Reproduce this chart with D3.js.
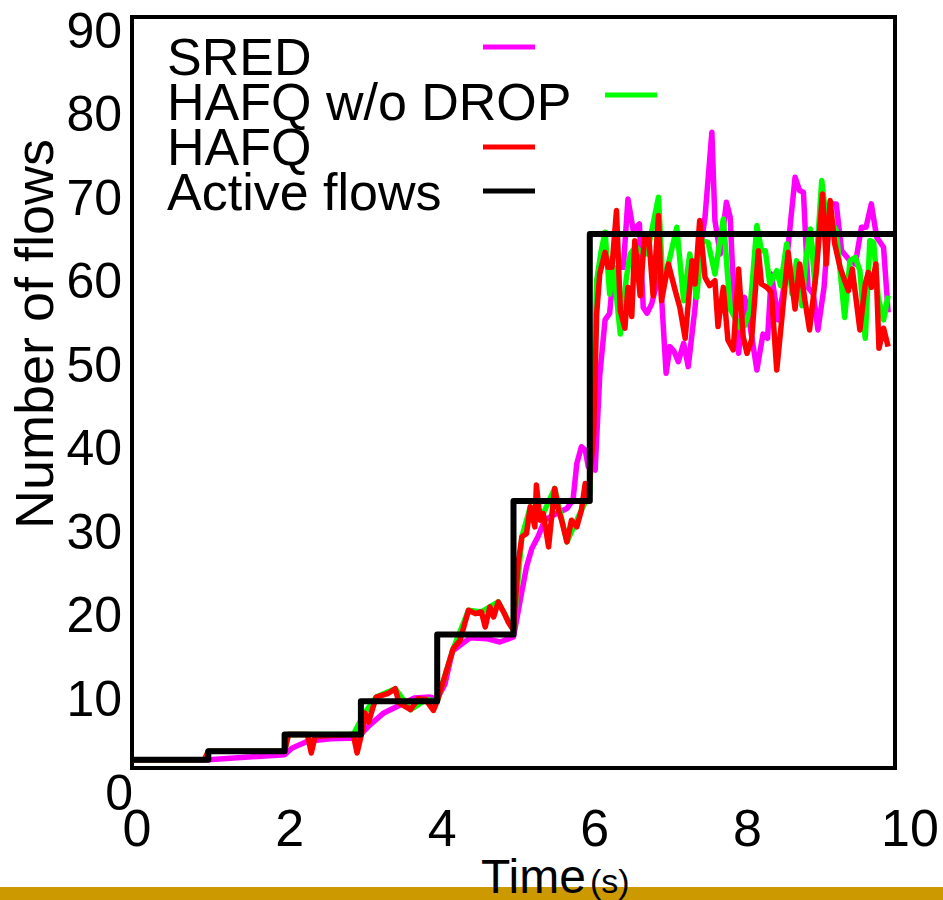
<!DOCTYPE html>
<html>
<head>
<meta charset="utf-8">
<script src="https://cdn.jsdelivr.net/npm/d3@7"></script>
<style>
    body { margin: 0; background: #fff; }
    text { font-family: "Liberation Sans", Arial, sans-serif; fill: #000; }
</style>
</head>
<body>
<div id="chart"></div>
<script>

// active flows: step function (time, flows)
let activeTime = [0, 1, 1, 2, 2, 3, 3, 4, 4, 5, 5, 6, 6, 10];
let activeFlows = [1, 1, 2, 2, 4, 4, 8, 8, 16, 16, 32, 32, 64, 64];

// SRED estimate
let sredTime = [0, 1, 2, 2.1, 2.3, 2.6, 2.95, 3.1, 3.3, 3.5, 3.7, 3.9, 4.0, 4.1, 4.2, 4.43, 4.65, 4.82, 5.0, 5.08, 5.17, 5.24, 5.32, 5.41, 5.52, 5.7, 5.78, 5.83, 5.89, 5.94, 5.98, 6.07, 6.13, 6.2, 6.26, 6.3, 6.38, 6.44, 6.5, 6.57, 6.65, 6.7, 6.75, 6.81, 6.92, 7.0, 7.05, 7.1, 7.16, 7.23, 7.29, 7.38, 7.44, 7.51, 7.6, 7.64, 7.71, 7.79, 7.84, 7.88, 7.95, 8.03, 8.1, 8.19, 8.27, 8.33, 8.38, 8.47, 8.55, 8.69, 8.75, 8.8, 8.86, 8.93, 8.99, 9.07, 9.15, 9.23, 9.3, 9.39, 9.48, 9.56, 9.62, 9.69, 9.76, 9.85, 9.91];
let sredFlows = [1, 1, 1.6, 2.4, 3.2, 3.5, 3.6, 5, 6.6, 7.5, 8.4, 8.5, 8.3, 10, 14, 15.6, 15.5, 15.1, 15.7, 19.7, 24.1, 26.3, 27.7, 29.7, 30.3, 31.1, 32.1, 36.5, 38.5, 38.1, 36.1, 35.7, 47, 53.7, 54.5, 58.4, 60, 60, 68.2, 64.4, 65.2, 55.2, 54.5, 55.6, 59.6, 47.3, 50.5, 50, 48.7, 50.9, 48.1, 55.2, 61.6, 66, 76.2, 65.6, 61.6, 67.8, 66, 58, 49.7, 56.4, 53, 47.7, 52, 51.5, 59.2, 53.7, 58, 70.8, 69.2, 69, 57.6, 56.8, 52.5, 57.6, 67.6, 67.6, 62, 61, 60.4, 64.8, 64.8, 67.6, 63.6, 62.4, 54.6];

// HAFQ estimate
let hafqTime = [0, 0.95, 1.0, 1.95, 2.0, 2.05, 2.3, 2.35, 2.4, 2.9, 2.95, 3.02, 3.05, 3.1, 3.2, 3.35, 3.45, 3.5, 3.65, 3.75, 3.85, 3.95, 4.0, 4.1, 4.21, 4.3, 4.41, 4.5, 4.58, 4.63, 4.69, 4.74, 4.8, 4.87, 4.93, 5.0, 5.06, 5.11, 5.17, 5.22, 5.28, 5.3, 5.35, 5.39, 5.46, 5.5, 5.54, 5.59, 5.63, 5.7, 5.76, 5.83, 5.89, 5.94, 5.98, 6.05, 6.09, 6.13, 6.2, 6.24, 6.29, 6.35, 6.4, 6.46, 6.5, 6.55, 6.59, 6.66, 6.72, 6.77, 6.83, 6.9, 6.94, 7.03, 7.12, 7.18, 7.25, 7.34, 7.38, 7.44, 7.51, 7.57, 7.64, 7.68, 7.75, 7.81, 7.88, 7.95, 8.01, 8.06, 8.12, 8.21, 8.25, 8.32, 8.38, 8.45, 8.51, 8.6, 8.69, 8.75, 8.82, 8.88, 8.97, 9.05, 9.1, 9.15, 9.21, 9.28, 9.34, 9.39, 9.44, 9.54, 9.61, 9.65, 9.69, 9.75, 9.79, 9.85, 9.91];
let hafqFlows = [1, 1, 2, 2, 2, 4, 4, 1.8, 3.8, 4, 1.8, 4.5, 6.6, 5.5, 8.5, 8.9, 9.5, 7.8, 7, 8.3, 8.2, 6.9, 8, 11, 14.3, 15.3, 18.9, 18.5, 18.7, 16.9, 19.3, 18.1, 19.9, 18.7, 17.5, 16.5, 24.5, 27.7, 28.1, 31.3, 28.9, 33.9, 29.7, 30.5, 26.5, 30.1, 33.5, 30.9, 29.7, 27.1, 29.7, 28.9, 30.9, 34.1, 32.5, 40, 54.4, 59.2, 61.8, 60, 60, 66.8, 54.8, 52.7, 57.6, 54.1, 63.2, 56.6, 64, 64, 56.6, 66.2, 56, 60.4, 57.2, 55.2, 51.5, 60.8, 58, 65.6, 58.8, 57.8, 58.4, 52.9, 57.6, 51.3, 50.1, 59.8, 51.7, 49.7, 51.3, 62, 58, 57.6, 57, 47.7, 53.2, 61.8, 55, 60.4, 56, 52.5, 59.6, 68.8, 60.4, 68, 62.8, 60, 58.4, 57.2, 59.8, 52.5, 58, 59.4, 57.6, 60.4, 50.3, 52.7, 50.5];

// HAFQ w/o DROP estimate (follows HAFQ before 6 s)
let nodropTime = [0, 0.95, 1.0, 1.95, 2.0, 2.05, 2.9, 3.05, 3.2, 3.45, 3.65, 3.85, 4.0, 4.21, 4.41, 4.58, 4.8, 5.0, 5.11, 5.22, 5.39, 5.54, 5.7, 5.89, 6.0, 6.05, 6.09, 6.15, 6.2, 6.26, 6.31, 6.4, 6.48, 6.53, 6.6, 6.65, 6.75, 6.9, 6.96, 7.05, 7.14, 7.23, 7.31, 7.4, 7.47, 7.55, 7.64, 7.75, 7.84, 7.97, 8.03, 8.1, 8.19, 8.25, 8.3, 8.36, 8.45, 8.5, 8.58, 8.65, 8.71, 8.78, 8.83, 8.89, 8.95, 9.04, 9.1, 9.16, 9.23, 9.34, 9.41, 9.48, 9.54, 9.61, 9.67, 9.72, 9.78, 9.85, 9.91];
let nodropFlows = [1, 1, 2, 2, 2, 4, 4, 6.6, 8.5, 9.5, 7, 8.2, 8, 14.3, 18.9, 18.7, 19.9, 16.5, 27.7, 31.3, 30.5, 33.5, 27.1, 30.9, 33, 45, 58.4, 62, 64.2, 56.8, 60, 52, 58.8, 61.6, 62.5, 62, 61.6, 68.4, 57.6, 61.2, 64.8, 56, 61.6, 56.4, 63.2, 63, 59.2, 65.8, 55, 52.8, 53, 54.9, 65, 62, 62, 58, 59.6, 57.8, 62.8, 56.8, 60.8, 55.4, 60.8, 64.6, 58, 70.4, 65.6, 65.6, 64.4, 54, 60.8, 61.2, 59.6, 51.5, 63.2, 63, 56.4, 53.7, 56.6];

// legend and ticks
let legendNames = ['SRED', 'HAFQ w/o DROP', 'HAFQ', 'Active flows'];
let legendColors = ['#ff00ff', '#00ff00', '#ff0000', '#000000'];
let xTicks = [0, 2, 4, 6, 8, 10];
let yTicks = [10, 20, 30, 40, 50, 60, 70, 80, 90];

function zip(times, values) {
    return times.map(function (t, i) {
        return {t: t, v: values[i]};
    });
}

function drawChart() {
    let width = 943;
    let height = 900;
    let margin = {top: 17, right: 48, bottom: 132, left: 132};

    let svg = d3.select('#chart').append('svg')
        .attr('width', width)
        .attr('height', height);

    let x = d3.scaleLinear()
        .domain([0, 10])
        .range([margin.left, width - margin.right]);

    let y = d3.scaleLinear()
        .domain([0, 90])
        .range([height - margin.bottom, margin.top]);

    // gold strip at the bottom
    svg.append('rect')
        .attr('x', 0)
        .attr('y', 887)
        .attr('width', width)
        .attr('height', 13)
        .attr('fill', '#cc9900');

    // plot frame
    svg.append('rect')
        .attr('x', x(0))
        .attr('y', y(90))
        .attr('width', x(10) - x(0))
        .attr('height', y(0) - y(90))
        .attr('fill', 'none')
        .attr('stroke', '#000')
        .attr('stroke-width', 4);

    // tick labels
    svg.selectAll('.ylab')
        .data(yTicks)
        .enter().append('text')
        .attr('class', 'ylab')
        .attr('x', 122)
        .attr('y', function (d) { return y(d) + 31; })
        .attr('text-anchor', 'end')
        .style('font-size', '50px')
        .text(function (d) { return d; });

    svg.append('text')
        .attr('x', 133)
        .attr('y', y(0) + 42)
        .attr('text-anchor', 'end')
        .style('font-size', '50px')
        .text('0');

    svg.selectAll('.xlab')
        .data(xTicks)
        .enter().append('text')
        .attr('class', 'xlab')
        .attr('x', function (d) { return x(d) + (d === 10 ? 15 : 5); })
        .attr('y', y(0) + 78)
        .attr('text-anchor', 'middle')
        .style('font-size', '52px')
        .text(function (d) { return d; });

    // axis titles
    svg.append('text')
        .attr('transform', 'translate(53,334) rotate(-90)')
        .attr('text-anchor', 'middle')
        .style('font-size', '54px')
        .text('Number of flows');

    let xTitle = svg.append('text')
        .attr('x', 481)
        .attr('y', 893);
    xTitle.append('tspan')
        .style('font-size', '48px')
        .text('Time');
    xTitle.append('tspan')
        .attr('dx', 4)
        .style('font-size', '34px')
        .text('(s)');

    // series lines, SRED first so HAFQ and active flows sit on top
    let line = d3.line()
        .x(function (d) { return x(d.t); })
        .y(function (d) { return y(d.v); });

    let series = [
        zip(sredTime, sredFlows),
        zip(nodropTime, nodropFlows),
        zip(hafqTime, hafqFlows),
        zip(activeTime, activeFlows)
    ];

    svg.selectAll('.series')
        .data(series)
        .enter().append('path')
        .attr('class', 'series')
        .attr('d', line)
        .attr('fill', 'none')
        .attr('stroke', function (d, i) { return legendColors[i]; })
        .attr('stroke-width', function (d, i) { return i === 3 ? 6 : 5.5; })
        .attr('stroke-linejoin', 'round');

    // legend
    let legendBase = [75, 120, 165, 210];
    let swatchY = [47, 95, 147, 191];
    let swatchX = [483, 605, 483, 483];

    svg.selectAll('.legtext')
        .data(legendNames)
        .enter().append('text')
        .attr('class', 'legtext')
        .attr('x', 167)
        .attr('y', function (d, i) { return legendBase[i]; })
        .style('font-size', '52px')
        .text(function (d) { return d; });

    svg.selectAll('.legline')
        .data(legendNames)
        .enter().append('line')
        .attr('class', 'legline')
        .attr('x1', function (d, i) { return swatchX[i]; })
        .attr('x2', function (d, i) { return swatchX[i] + 52; })
        .attr('y1', function (d, i) { return swatchY[i]; })
        .attr('y2', function (d, i) { return swatchY[i]; })
        .attr('stroke', function (d, i) { return legendColors[i]; })
        .attr('stroke-width', 5);
}

drawChart();
</script>
</body>
</html>
